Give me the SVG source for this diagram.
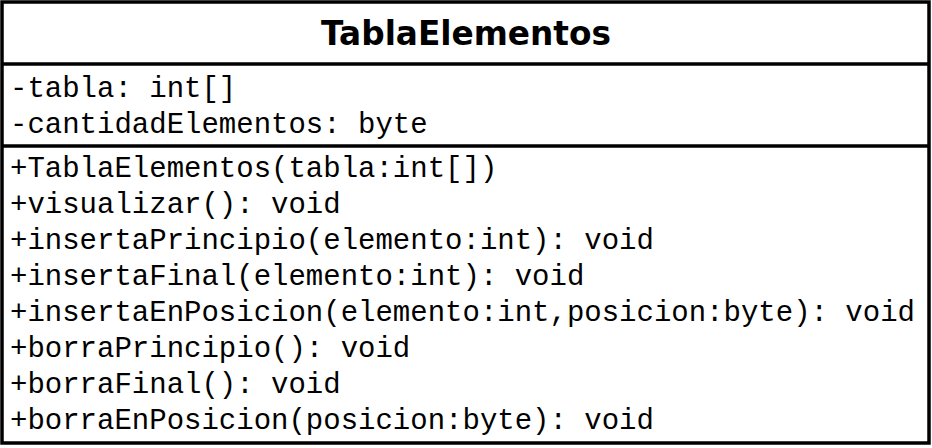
<svg xmlns="http://www.w3.org/2000/svg" width="932" height="448" viewBox="0 0 932 448">
<style>
.box{fill:#fff;stroke:#000;stroke-width:3.5}
.sep{stroke:#000;stroke-width:3.5}
.title{font-family:"DejaVu Sans",Verdana,sans-serif;font-weight:bold;font-size:33px;fill:#000}
.m{font-family:"Liberation Mono","Courier New",monospace;font-size:29px;fill:#000}
</style>
<rect width="932" height="448" fill="#fff"/>
<g id="TablaElementos">
<rect class="box" x="2" y="2" width="927" height="441"/>
<line class="sep" x1="2" y1="64" x2="929" y2="64"/>
<line class="sep" x1="2" y1="146" x2="929" y2="146"/>
<text class="title" x="466" y="45" text-anchor="middle" textLength="290" lengthAdjust="spacingAndGlyphs">TablaElementos</text>
<text class="m" x="10" y="97">-tabla: int[]</text>
<text class="m" x="10" y="133">-cantidadElementos: byte</text>
<text class="m" x="10" y="177">+TablaElementos(tabla:int[])</text>
<text class="m" x="10" y="213">+visualizar(): void</text>
<text class="m" x="10" y="249">+insertaPrincipio(elemento:int): void</text>
<text class="m" x="10" y="285">+insertaFinal(elemento:int): void</text>
<text class="m" x="10" y="321">+insertaEnPosicion(elemento:int,posicion:byte): void</text>
<text class="m" x="10" y="357">+borraPrincipio(): void</text>
<text class="m" x="10" y="393">+borraFinal(): void</text>
<text class="m" x="10" y="429">+borraEnPosicion(posicion:byte): void</text>
</g>
<g id="connectors"/>
</svg>
